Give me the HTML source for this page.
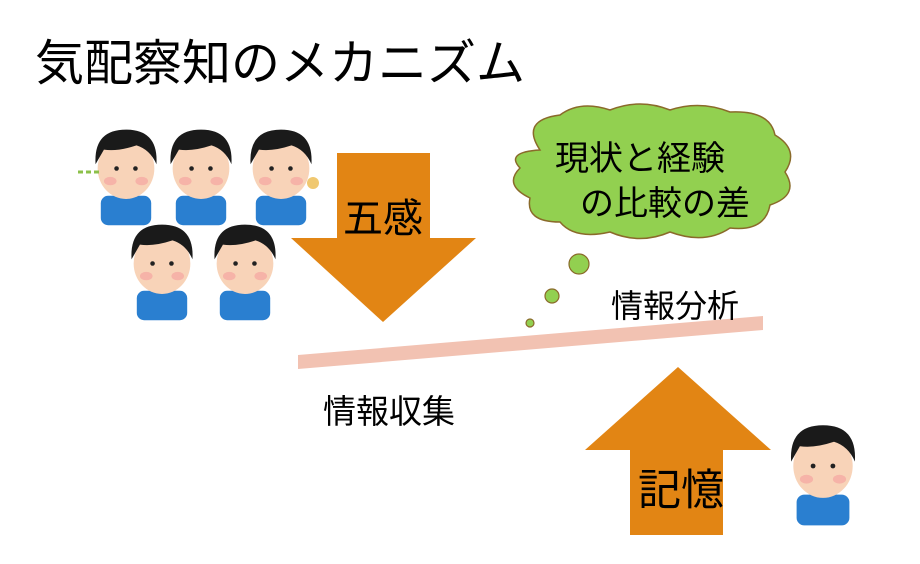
<!DOCTYPE html>
<html><head><meta charset="utf-8"><style>
body{margin:0;width:920px;height:564px;background:#fff;overflow:hidden;position:relative;font-family:"Liberation Sans","Noto Sans CJK JP",sans-serif;}
.t{position:absolute;white-space:nowrap;color:#000;}
</style></head><body>
<svg width="920" height="564" style="position:absolute;left:0;top:0">
<defs>
<g id="kid">
<rect x="-24" y="36" width="48" height="28" rx="7" fill="#2a7fd0"/>
<ellipse cx="0" cy="10" rx="27" ry="29" fill="#f8d3b8"/>
<path d="M-29 6 Q-31 -27 0 -27 Q31 -27 29 6 Q23 -8 10 -12 Q-8 -6 -21 -8 Z" fill="#1a1a1a"/>
<circle cx="-9" cy="10" r="2.2" fill="#222"/><circle cx="9" cy="10" r="2.2" fill="#222"/>
<ellipse cx="-15" cy="22" rx="6" ry="4" fill="#f6b3a8"/><ellipse cx="15" cy="22" rx="6" ry="4" fill="#f6b3a8"/>
</g>
</defs>
<use href="#kid" transform="translate(126,158) scale(1.05)"/>
<use href="#kid" transform="translate(201,158) scale(1.05)"/>
<use href="#kid" transform="translate(281,158) scale(1.05)"/>
<use href="#kid" transform="translate(162,253) scale(1.05)"/>
<use href="#kid" transform="translate(245,253) scale(1.05)"/>
<path d="M78 172 H100" stroke="#8cc04a" stroke-width="3" stroke-dasharray="5,3"/>
<circle cx="313" cy="183" r="6" fill="#f0c870"/>
<use href="#kid" transform="translate(823,455) scale(1.1)"/>
<polygon points="337,153 430,153 430,238 476,238 383,322 291,238 337,238" fill="#e28514"/>
<polygon points="298,355 763,316 763,330 298,369" fill="#f2c2b2"/>
<polygon points="678,367 771,450 723,450 723,535 630,535 630,450 585,450" fill="#e28514"/>
<path d="M540 150 Q520 120 560 115 Q580 100 610 110 Q640 98 670 110 Q700 100 730 112 Q770 110 775 135 Q800 150 785 172 Q800 195 770 205 Q765 232 730 228 Q705 245 670 232 Q640 245 610 232 Q575 240 560 222 Q525 222 530 198 Q503 185 520 168 Q505 152 540 150 Z" fill="#92d050" stroke="#8a6a2a" stroke-width="1.5"/>
<circle cx="579" cy="264" r="10" fill="#92d050" stroke="#8a6a2a" stroke-width="1.2"/>
<circle cx="552" cy="296" r="7" fill="#92d050" stroke="#8a6a2a" stroke-width="1.2"/>
<circle cx="530" cy="323" r="4" fill="#92d050" stroke="#8a6a2a" stroke-width="1.2"/>
</svg>
<div class="t" style="left:35px;top:24px;font-size:49px;">気配察知のメカニズム</div>
<div class="t" style="left:343px;top:186px;font-size:40px;">五感</div>
<div class="t" style="left:555px;top:131px;font-size:34px;">現状と経験</div>
<div class="t" style="left:580px;top:176px;font-size:34px;">の比較の差</div>
<div class="t" style="left:611px;top:281px;font-size:32px;">情報分析</div>
<div class="t" style="left:323px;top:385px;font-size:33px;">情報収集</div>
<div class="t" style="left:638px;top:456px;font-size:43px;">記憶</div>
</body></html>
